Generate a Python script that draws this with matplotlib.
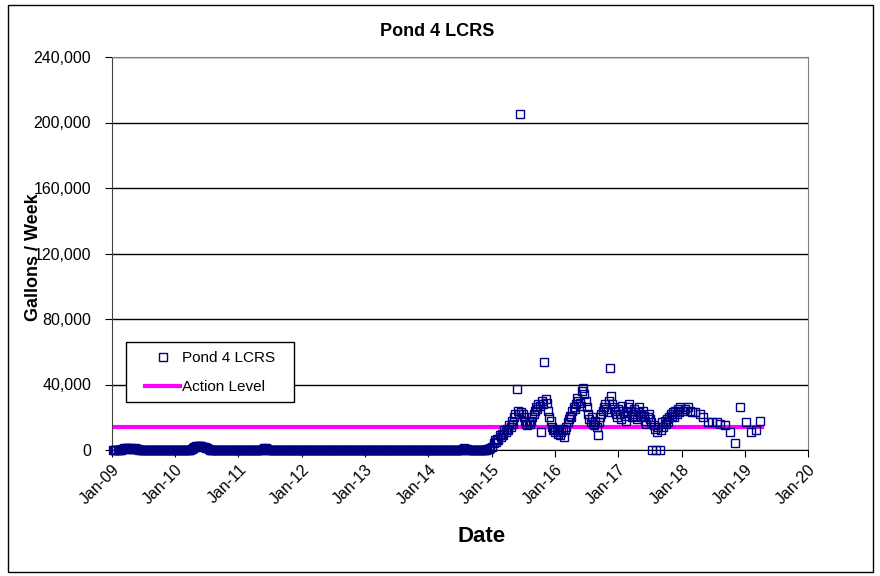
import pandas as pd
import numpy as np
import matplotlib
matplotlib.use('Agg')
import matplotlib.pyplot as plt
import matplotlib.dates as mdates
from matplotlib.ticker import FuncFormatter
from matplotlib.patches import Rectangle

plt.rcParams['font.family'] = ['Liberation Sans', 'DejaVu Sans']

# weekly LCRS flow, gallons/week, 2009-2014 (almost nothing)
flow_2009 = [0, 0, 0, 0, 0, 0, 0, 0, 800, 1000, 900, 1200, 1000, 800, 1000, 1100, 900, 800, 1000, 900,
             700, 500, 0, 0, 0, 0, 0, 0, 0, 0, 0, 0, 0, 0, 0, 0, 0, 0, 0, 0, 0, 0, 0, 0, 0, 0, 0, 0, 0, 0, 0, 0]
flow_2010 = [0, 0, 0, 0, 0, 0, 0, 0, 0, 0, 0, 0, 0, 800, 1200, 1600, 2000, 2400, 2500, 2200, 2500, 2200,
             1800, 2000, 1600, 1200, 1000, 600, 0, 0, 0, 0, 0, 0, 0, 0, 0, 0, 0, 0, 0, 0, 0, 0, 0, 0, 0, 0, 0, 0, 0, 0]
flow_2011 = [0, 0, 0, 0, 0, 0, 0, 0, 0, 0, 0, 0, 0, 0, 0, 0, 0, 0, 0, 0, 800, 1200, 1000, 600, 0, 0,
             0, 0, 0, 0, 0, 0, 0, 0, 0, 0, 0, 0, 0, 0, 0, 0, 0, 0, 0, 0, 0, 0, 0, 0, 0, 0]
flow_2012 = [0, 0, 0, 0, 0, 0, 0, 0, 0, 0, 0, 0, 0, 0, 0, 0, 0, 0, 0, 0, 0, 0, 0, 0, 0, 0,
             0, 0, 0, 0, 0, 0, 0, 0, 0, 0, 0, 0, 0, 0, 0, 0, 0, 0, 0, 0, 0, 0, 0, 0, 0, 0]
flow_2013 = [0, 0, 0, 0, 0, 0, 0, 0, 0, 0, 0, 0, 0, 0, 0, 0, 0, 0, 0, 0, 0, 0, 0, 0, 0, 0,
             0, 0, 0, 0, 0, 0, 0, 0, 0, 0, 0, 0, 0, 0, 0, 0, 0, 0, 0, 0, 0, 0, 0, 0, 0, 0]
flow_2014 = [0, 0, 0, 0, 0, 0, 0, 0, 0, 0, 0, 0, 0, 0, 0, 0, 0, 0, 0, 0, 0, 0, 0, 0, 0, 0,
             0, 0, 0, 600, 1000, 800, 600, 0, 0, 0, 0, 0, 0, 0, 0, 0, 0, 0, 0, 0, 0, 0, 0, 500, 800, 1000]

# weekly flow 2015-2017
flow_2015 = [2000, 4000, 6000, 5000, 7000, 6000, 9000, 8000, 10000, 9000, 12000, 11000,
             13000, 12000, 15000, 14000, 18000, 16000, 20000, 22000, 37000, 24000, 22000, 205000,
             23000, 22000, 20000, 18000, 16000, 15000, 17000, 16000, 18000, 20000, 22000, 24000,
             26000, 25000, 28000, 27000, 11000, 30000, 28000, 54000, 31000, 29000, 24000, 20000,
             18000, 14000, 12000, 13000]
flow_2016 = [11000, 12000, 10000, 12000, 9000, 11000, 13000, 8000, 12000, 14000, 17000, 19000,
             21000, 20000, 24000, 26000, 25000, 28000, 32000, 30000, 29000, 27000, 36000, 38000,
             34000, 30000, 26000, 22000, 19000, 17000, 20000, 16000, 15000, 18000, 14000, 9000,
             17000, 20000, 22000, 24000, 26000, 28000, 25000, 23000, 30000, 50000, 33000, 28000,
             26000, 24000, 22000, 20000]
flow_2017 = [25000, 22000, 19000, 27000, 24000, 21000, 18000, 23000, 26000, 28000, 24000, 20000,
             22000, 25000, 21000, 19000, 23000, 26000, 22000, 20000, 24000, 21000, 18000, 16000,
             20000, 22000, 19000, 17000, 0, 15000, 13000, 0, 11000, 14000, 0, 12000,
             17000, 14000, 18000, 16000, 19000, 17000, 20000, 22000, 21000, 23000, 20000, 24000,
             22000, 25000, 23000, 26000]

# 2018-2019 readings (less frequent)
late_dates = ['2018-01-08', '2018-01-22', '2018-02-05', '2018-02-19', '2018-03-05', '2018-03-19',
              '2018-04-16', '2018-05-07', '2018-06-04', '2018-06-25', '2018-07-23', '2018-08-13',
              '2018-09-10', '2018-10-08', '2018-11-05', '2018-12-03', '2019-01-07', '2019-02-04',
              '2019-03-04', '2019-04-01']
late_gal = [24000, 25000, 26000, 24000, 23000, 23000, 22000, 20000, 17000, 17000, 17000, 16000,
            15000, 11000, 4500, 26500, 17000, 11000, 12000, 18000]

action_level = 14000
action_dates = ['2009-01-01', '2019-04-10']

early_gal = flow_2009 + flow_2010 + flow_2011 + flow_2012 + flow_2013 + flow_2014
early_idx = pd.date_range('2009-01-05', periods=len(early_gal), freq='7D')
mid_gal = flow_2015 + flow_2016 + flow_2017
mid_idx = pd.date_range('2015-01-05', periods=len(mid_gal), freq='7D')

dates = list(early_idx) + list(mid_idx) + list(pd.to_datetime(late_dates))
gal = early_gal + mid_gal + late_gal
df = pd.DataFrame({'date': dates, 'gal': gal})

fig = plt.figure(figsize=(8.8, 5.76), dpi=100)
ax = fig.add_axes([112 / 880, 1 - 450 / 576, 696 / 880, 393 / 576])

navy = '#000080'
ax.plot(pd.to_datetime(action_dates), [action_level, action_level], color='#ff00ff', lw=3,
        label='Action Level', zorder=2)
ax.plot(df['date'], df['gal'], ls='none', marker='s', ms=6, mfc='none', mec=navy, mew=1,
        label='Pond 4 LCRS', clip_on=False, zorder=3)

ax.set_xlim(pd.Timestamp('2009-01-01'), pd.Timestamp('2020-01-01'))
ax.set_ylim(0, 240000)
ax.set_yticks(np.arange(0, 240001, 40000))
ax.yaxis.set_major_formatter(FuncFormatter(lambda v, p: f'{int(v):,}'))
ax.xaxis.set_major_locator(mdates.YearLocator())
ax.xaxis.set_major_formatter(mdates.DateFormatter('%b-%y'))
ax.grid(axis='y', color='black', lw=1)
ax.set_axisbelow(True)

for s in ['top', 'right']:
    ax.spines[s].set_color('#808080')
ax.spines['left'].set_color('#404040')
ax.spines['bottom'].set_color('black')
ax.tick_params(axis='both', direction='out', length=5, labelsize=11.5, colors='black')
ax.tick_params(axis='y', pad=10)
plt.setp(ax.get_xticklabels(), rotation=45, ha='right', rotation_mode='anchor')

fig.text(437 / 880, 1 - 31 / 576, 'Pond 4 LCRS', fontsize=13, fontweight='bold',
         ha='center', va='center')
ax.set_ylabel('Gallons / Week', fontsize=13, fontweight='bold')
ax.yaxis.set_label_coords((42 - 112) / 696, 0.49)
fig.text(482 / 880, 1 - 536 / 576, 'Date', fontsize=16, fontweight='bold',
         ha='center', va='center')

# legend box drawn like the Excel one
ax.add_patch(Rectangle((0.0201, 0.1221), 0.2414, 0.1527, transform=ax.transAxes,
                       fc='white', ec='black', lw=1, zorder=4))
h, l = ax.get_legend_handles_labels()
leg = ax.legend(h[::-1], l[::-1], loc='upper left', bbox_to_anchor=(0.0474, 0.252), fontsize=11,
                frameon=False, handlelength=2.3, handletextpad=0.12, labelspacing=1.0,
                borderpad=0, borderaxespad=0)
leg.set_zorder(5)

fig.add_artist(Rectangle((8 / 880, 1 - 572 / 576), 865 / 880, 567 / 576, transform=fig.transFigure,
                         fill=False, ec='black', lw=1))

fig.savefig('out.png', dpi=100)
